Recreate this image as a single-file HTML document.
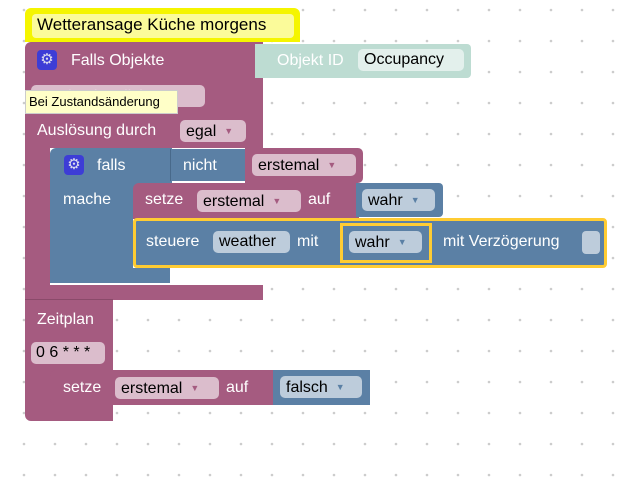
<!DOCTYPE html>
<html><head><meta charset="utf-8"><style>
body{margin:0;width:634px;height:493px;position:relative;overflow:hidden;background:#fff;font-family:"Liberation Sans",sans-serif;}
.a{position:absolute;box-sizing:border-box;}
.p{background:#a55b80;}
.b{background:#5b80a5;}
.t{position:absolute;color:#fff;font-size:16px;line-height:20px;white-space:nowrap;}
.f{position:absolute;box-sizing:border-box;border-radius:5px;color:#000;font-size:16px;line-height:22px;height:22px;padding-left:6px;white-space:nowrap;}
.fp{background:#dbbdcc;}
.fb{background:#bdccdb;}
.ar{font-size:9px;color:#a55b80;vertical-align:2px;margin-left:8px;}
.ab{font-size:9px;color:#5b80a5;vertical-align:2px;margin-left:8px;}
.g{position:absolute;width:20px;height:20px;border-radius:4px;background:#3d3dd6;color:#dde;font-size:15px;line-height:20px;text-align:center;}
</style></head><body>
<svg class="a" style="left:0;top:0" width="634" height="493">
<defs><pattern id="d" x="22" y="8" width="31" height="31" patternUnits="userSpaceOnUse"><circle cx="2" cy="2" r="1.3" fill="#ccc"/></pattern></defs>
<rect width="634" height="493" fill="url(#d)"/>
</svg>

<!-- main purple block -->
<div class="a p" style="left:25px;top:42px;width:238px;height:106px;border-radius:6px 0 0 0"></div>
<div class="a p" style="left:25px;top:140px;width:25px;height:160px"></div>
<div class="a p" style="left:25px;top:285px;width:238px;height:15px"></div>
<!-- comment -->
<div class="a" style="left:25px;top:8px;width:275px;height:34px;background:#f5f500;border-radius:6px 6px 0 0"></div>
<div class="a" style="left:32px;top:14px;width:262px;height:24px;background:#fbfb9a;border-radius:4px"></div>
<div class="t" style="left:37px;top:15px;color:#000;font-size:17px">Wetteransage Küche morgens</div>

<div class="g" style="left:37px;top:50px">⚙</div>
<div class="t" style="left:71px;top:51px">Falls Objekte</div>
<!-- objekt id -->
<div class="a" style="left:255px;top:44px;width:216px;height:34px;background:#bddcd2;border-radius:0 4px 4px 0"></div>
<div class="t" style="left:277px;top:51px">Objekt ID</div>
<div class="f" style="left:358px;top:49px;width:106px;background:#e3f0ec">Occupancy</div>

<div class="f fp" style="left:31px;top:85px;width:174px;color:#e8d6df">wurde aktualisiert<span class="ar">▼</span></div>
<div class="a" style="left:25px;top:90px;width:153px;height:24px;background:#ffffc8;border:1px solid #ccc"></div>
<div class="t" style="left:29px;top:92px;color:#000;font-size:13px">Bei Zustandsänderung</div>
<div class="t" style="left:37px;top:121px">Auslösung durch</div>
<div class="f fp" style="left:180px;top:120px;width:66px">egal<span class="ar">▼</span></div>

<!-- falls blue block -->
<div class="a b" style="left:50px;top:148px;width:122px;height:70px;border-radius:6px 0 0 0"></div>
<div class="a b" style="left:50px;top:210px;width:83px;height:73px;border-radius:0 0 0 6px"></div>
<div class="a b" style="left:50px;top:268px;width:120px;height:15px"></div>
<div class="g" style="left:64px;top:155px">⚙</div>
<div class="t" style="left:97px;top:156px">falls</div>
<div class="t" style="left:63px;top:190px">mache</div>
<div class="a b" style="left:170px;top:149px;width:77px;height:32px;border-left:1px solid #48698a"></div>
<div class="t" style="left:183px;top:156px">nicht</div>
<div class="a p" style="left:245px;top:148px;width:118px;height:35px;border-radius:0 5px 5px 0"></div>
<div class="f fp" style="left:252px;top:154px;width:104px">erstemal<span class="ar">▼</span></div>

<!-- setze erstemal auf wahr -->
<div class="a p" style="left:133px;top:183px;width:226px;height:36px;border-radius:6px 0 0 0"></div>
<div class="t" style="left:145px;top:190px">setze</div>
<div class="f fp" style="left:197px;top:190px;width:104px">erstemal<span class="ar">▼</span></div>
<div class="t" style="left:308px;top:190px">auf</div>
<div class="a b" style="left:356px;top:183px;width:87px;height:34px;border-radius:0 4px 4px 0"></div>
<div class="f fb" style="left:362px;top:189px;width:73px">wahr<span class="ab">▼</span></div>

<!-- steuere -->
<div class="a b" style="left:133px;top:218px;width:474px;height:50px;border:3px solid #fc3;border-radius:4px"></div>
<div class="t" style="left:146px;top:232px">steuere</div>
<div class="f fb" style="left:213px;top:231px;width:77px">weather</div>
<div class="t" style="left:297px;top:232px">mit</div>
<div class="a b" style="left:340px;top:223px;width:92px;height:40px;border:3px solid #fc3"></div>
<div class="f fb" style="left:349px;top:231px;width:73px">wahr<span class="ab">▼</span></div>
<div class="t" style="left:443px;top:232px">mit Verzögerung</div>
<div class="a" style="left:582px;top:231px;width:18px;height:23px;background:#bdccdb;border-radius:4px"></div>

<!-- Zeitplan -->
<div class="a p" style="left:25px;top:299px;width:88px;height:122px;border-radius:0 0 0 6px;border-top:1px solid #8a4a6a"></div>
<div class="t" style="left:37px;top:310px">Zeitplan</div>
<div class="f fp" style="left:31px;top:342px;width:74px;padding-left:5px">0 6 * * *</div>
<div class="a p" style="left:50px;top:370px;width:225px;height:35px;border-radius:6px 0 0 6px"></div>
<div class="t" style="left:63px;top:378px">setze</div>
<div class="f fp" style="left:115px;top:377px;width:104px">erstemal<span class="ar">▼</span></div>
<div class="t" style="left:226px;top:378px">auf</div>
<div class="a b" style="left:273px;top:370px;width:97px;height:35px"></div>
<div class="f fb" style="left:280px;top:376px;width:82px">falsch<span class="ab">▼</span></div>
</body></html>
